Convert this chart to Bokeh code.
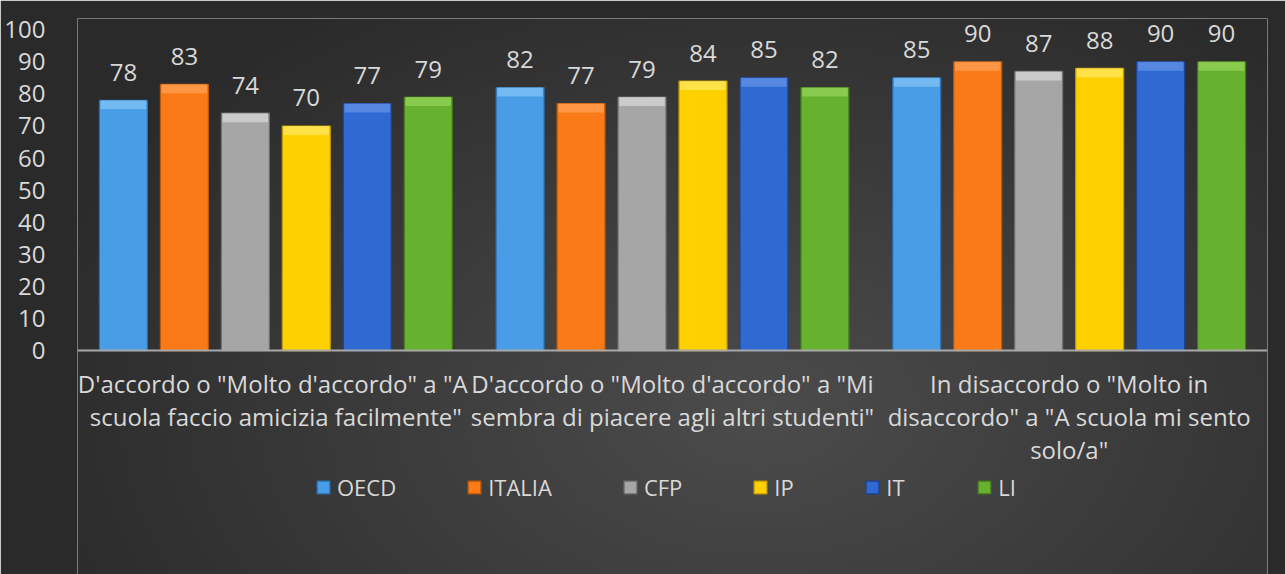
import numpy as np
from bokeh.plotting import figure
from bokeh.models import FactorRange, ColumnDataSource, Legend, LegendItem, Span
from bokeh.core.properties import value
from bokeh.transform import dodge
from bokeh.embed import file_html
from bokeh.resources import INLINE

categories = [
    'D\'accordo o "Molto d\'accordo" a  "A\nscuola faccio amicizia facilmente"',
    'D\'accordo o "Molto d\'accordo" a "Mi\nsembra di piacere agli altri studenti"',
    'In disaccordo o "Molto in\ndisaccordo" a "A scuola mi sento\nsolo/a"',
]
series_names = ["OECD", "ITALIA", "CFP", "IP", "IT", "LI"]
oecd = [78, 82, 85]
italia = [83, 77, 90]
cfp = [74, 79, 87]
ip = [70, 84, 88]
it_ = [77, 85, 90]
li = [79, 82, 90]
series_values = [oecd, italia, cfp, ip, it_, li]
y_ticks = list(range(0, 101, 10))

colors = ["#489de6", "#f97a16", "#a6a6a6", "#ffd000", "#2e6ad2", "#66b22e"]
edge = ["#2a6fb0", "#b8560a", "#6e6e6e", "#c29a00", "#1c4394", "#437a1a"]
caps = ["#86c6f7", "#ffa25a", "#dcdcdc", "#ffe866", "#6896e8", "#98d65e"]

EDGE_BG = "#2a2a2a"
TXT = "#d9d9d9"
FONT = "Open Sans"

FW, FH, LEFT, TOP = 1190, 556, 77, 18
p = figure(
    x_range=FactorRange(factors=categories),
    y_range=(-69.8, 103.5),
    frame_width=FW, frame_height=FH,
    output_backend="svg", toolbar_location=None,
    background_fill_alpha=0, border_fill_color=EDGE_BG,
    min_border_left=LEFT, min_border_right=18, min_border_top=TOP, min_border_bottom=0,
)
p.outline_line_color = None

# soft radial background shading of the chart area (decoration only)
W, H = 320, 150
gx = LEFT + (np.arange(W) + 0.5) / W * FW
gy = TOP + (np.arange(H)[::-1] + 0.5) / H * FH
X, Y = np.meshgrid(gx, gy)
rr = np.minimum(1.0, np.sqrt(((X - 760) / 780) ** 2 + ((Y - 410) / 500) ** 2))
shade = (76 - 34 * rr).astype(np.uint32)
img = (255 << 24) | (shade << 16) | (shade << 8) | shade
ys, ye = p.y_range.start, p.y_range.end
p.image_rgba(image=[img.view(np.uint32)], x=0, y=ys, dw=len(categories), dh=ye - ys)

slot = 0.1537
bw = 0.121
items = []
for j, (name, vals) in enumerate(zip(series_names, series_values)):
    off = (j - 2.5) * slot
    src = ColumnDataSource(dict(x=categories, top=vals,
                                cap_bottom=[v - 2.8 for v in vals],
                                label=[str(v) for v in vals]))
    xs = dodge("x", off, range=p.x_range)
    r = p.vbar(x=xs, top="top", bottom=0, width=bw,
               source=src, fill_color=colors[j], line_color=edge[j], line_width=1.2)
    p.vbar(x=xs, top="top", bottom="cap_bottom", width=bw * 0.95,
           source=src, fill_color=caps[j], line_color=None, fill_alpha=0.7)
    p.text(x=xs, y="top", text="label", source=src,
           text_align="center", text_baseline="alphabetic", y_offset=-28,
           text_font_size="24px", text_color=TXT, text_font=value(FONT))
    items.append(LegendItem(label=name, renderers=[r]))

cat_src = ColumnDataSource(dict(x=categories, y=[0] * len(categories), t=categories))
p.text(x="x", y="y", text="t", source=cat_src, text_align="center", text_baseline="top",
       y_offset=16, text_font_size="24px", text_color=TXT, text_font=value(FONT),
       text_line_height=1.0)

p.add_layout(Span(location=0, dimension="width", line_color="#a8a8a8", line_width=2))

p.yaxis.ticker = y_ticks
p.yaxis.bounds = (0, 100)
p.yaxis.axis_line_color = None
p.yaxis.axis_line_alpha = 0
p.yaxis.major_tick_line_color = None
p.yaxis.minor_tick_line_color = None
p.yaxis.major_label_text_font = FONT
p.yaxis.major_label_text_font_size = "24px"
p.yaxis.major_label_text_color = TXT
p.yaxis.major_label_standoff = 26

p.xaxis.visible = False
p.xgrid.grid_line_color = None
p.ygrid.grid_line_color = "#565656"
p.ygrid.grid_line_width = 1
p.ygrid.ticker = y_ticks

legend = Legend(items=items, orientation="horizontal", location=(238, 72),
                background_fill_alpha=0, border_line_color=None,
                label_text_font=FONT, label_text_font_size="22px", label_text_color=TXT,
                glyph_width=16, glyph_height=16, label_standoff=6, spacing=70,
                margin=0, padding=4)
p.add_layout(legend, "center")

open("out.html", "w").write(file_html(p, INLINE))
